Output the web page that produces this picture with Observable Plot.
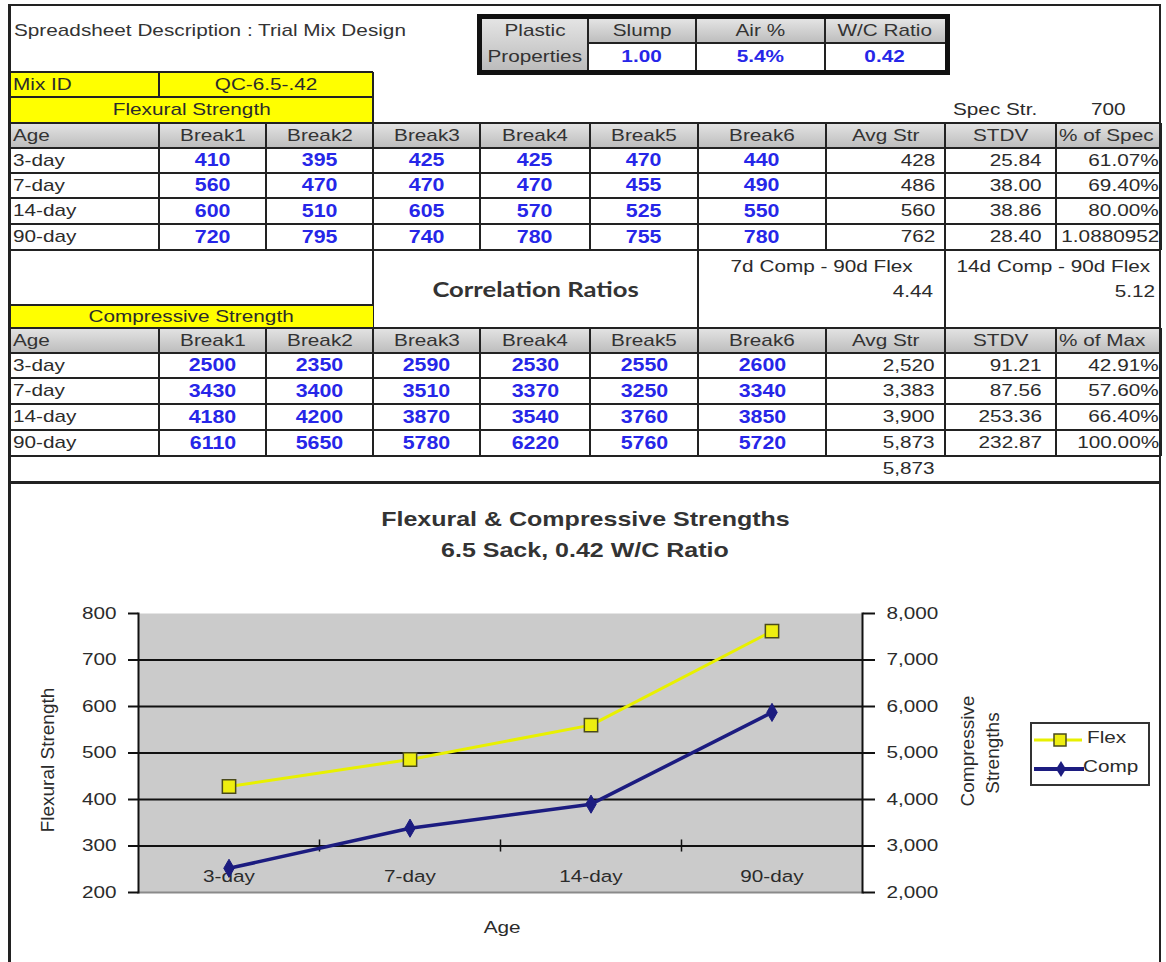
<!DOCTYPE html>
<html><head><meta charset="utf-8">
<script src="https://cdn.jsdelivr.net/npm/d3@7"></script>
<script src="https://cdn.jsdelivr.net/npm/@observablehq/plot@0.6"></script>
<style>
body{margin:0;background:#fff;}
#page{position:relative;width:1166px;height:962px;overflow:hidden;background:#fff;font-family:"Liberation Sans",Arial,sans-serif;color:#2b2b2b;}
.c{position:absolute;white-space:nowrap;box-sizing:border-box;}
.c>span{display:inline-block;}
</style></head><body><div id="page"></div>
<script>
// ---------- data ----------
const ages = ["3-day", "7-day", "14-day", "90-day"];
const breakLabels = ["Break1", "Break2", "Break3", "Break4", "Break5", "Break6"];
const flexBreaks = [
  [410, 395, 425, 425, 470, 440],
  [560, 470, 470, 470, 455, 490],
  [600, 510, 605, 570, 525, 550],
  [720, 795, 740, 780, 755, 780]
];
const flexAvg = [428, 486, 560, 762];
const flexStdv = [25.84, 38.00, 38.86, 28.40];
const flexPctSpec = ["61.07%", "69.40%", "80.00%", "1.0880952"];
const compBreaks = [
  [2500, 2350, 2590, 2530, 2550, 2600],
  [3430, 3400, 3510, 3370, 3250, 3340],
  [4180, 4200, 3870, 3540, 3760, 3850],
  [6110, 5650, 5780, 6220, 5760, 5720]
];
const compAvg = [2520, 3383, 3900, 5873];
const compStdv = [91.21, 87.56, 253.36, 232.87];
const compPctMax = ["42.91%", "57.60%", "66.40%", "100.00%"];
const compMax = 5873;
const plasticLabels = ["Slump", "Air %", "W/C Ratio"];
const plasticValues = ["1.00", "5.4%", "0.42"];
const mixId = "QC-6.5-.42";
const specStr = 700;
const corrLabels = ["7d Comp - 90d Flex", "14d Comp - 90d Flex"];
const corrValues = [4.44, 5.12];
const flexTicks = [200, 300, 400, 500, 600, 700, 800];
const compTicks = [2000, 3000, 4000, 5000, 6000, 7000, 8000];
const axisCross = 300;

// ---------- helpers ----------
const SX = 1.22;
const page = document.getElementById("page");
function box(x0, y0, x1, y1, style) {
  const d = document.createElement("div");
  d.className = "c";
  Object.assign(d.style, {left: x0 + "px", top: y0 + "px", width: (x1 - x0) + "px", height: (y1 - y0) + "px"}, style || {});
  page.appendChild(d);
  return d;
}
function txt(x0, y0, x1, y1, text, o = {}) {
  const {align = "center", size = 17, weight = "normal", color = "#2b2b2b", pad = 4, family} = o;
  const d = box(x0, y0, x1, y1, {textAlign: align, lineHeight: (y1 - y0) + "px", fontSize: size + "px",
    fontWeight: weight, color, padding: `0 ${pad}px`});
  if (family) d.style.fontFamily = family;
  const s = document.createElement("span");
  s.textContent = text;
  s.style.transform = `scaleX(${SX})`;
  s.style.transformOrigin = align === "left" ? "left center" : align === "right" ? "right center" : "center center";
  d.appendChild(s);
  return d;
}
function hl(x0, x1, y, w = 2) { box(x0, y - w / 2, x1, y + w / 2, {background: "#222"}); }
function vl(x, y0, y1, w = 2) { box(x - w / 2, y0, x + w / 2, y1, {background: "#222"}); }

const X = [10, 159, 266, 373, 480, 590, 698, 826, 945, 1056, 1161];
const BLUE = "#2626e8";
const GRAY = "linear-gradient(#e4e4e4,#bcbcbc)";
const YEL = "#ffff00";

// title
txt(10, 18, 470, 44, "Spreadsheet Description : Trial Mix Design", {align: "left", pad: 4, color: "#333"});

// plastic properties box
box(477, 14, 950, 75, {border: "5px solid #111", background: "#fff"});
box(482, 19, 588, 70, {background: GRAY});
txt(482, 19, 588, 43, "Plastic", {color: "#333"});
txt(482, 43, 588, 70, "Properties", {color: "#333"});
const PX = [588, 696, 825, 945];
plasticLabels.forEach((l, i) => {
  box(PX[i], 19, PX[i + 1], 43, {background: GRAY});
  txt(PX[i], 19, PX[i + 1], 43, l, {color: "#333"});
  txt(PX[i], 43, PX[i + 1], 70, plasticValues[i], {color: BLUE, weight: "bold"});
});
PX.slice(0, 3).forEach(x => vl(x, 19, 70, 2));
hl(588, 945, 43, 2);

// Mix ID & Flexural header
box(10, 72, 373, 123, {background: YEL});
txt(10, 72, 159, 97, "Mix ID", {align: "left", pad: 3});
txt(159, 72, 373, 97, mixId);
txt(10, 97, 373, 123, "Flexural Strength");
hl(10, 373, 72); hl(10, 373, 97); vl(159, 72, 97); vl(373, 72, 123);
txt(945, 97, 1056, 123, "Spec Str.", {align: "left", pad: 8});
txt(1056, 97, 1161, 123, String(specStr));

function drawTable(rows, lastLabel, breaks, avg, avgFmt, stdv, pct) {
  const heads = ["Age", ...breakLabels, "Avg Str", "STDV", lastLabel];
  heads.forEach((h, i) => {
    box(X[i], rows[0], X[i + 1], rows[1], {background: GRAY});
    txt(X[i], rows[0], X[i + 1], rows[1], h, {align: (i === 0 || i === 9) ? "left" : "center", pad: 3, color: "#333"});
  });
  ages.forEach((a, r) => {
    const y0 = rows[r + 1], y1 = rows[r + 2];
    txt(X[0], y0, X[1], y1, a, {align: "left", pad: 3});
    breaks[r].forEach((v, j) => txt(X[j + 1], y0, X[j + 2], y1, String(v), {size: 17.5, weight: "bold", color: BLUE}));
    txt(X[7], y0, X[8], y1, avgFmt(avg[r]), {align: "right", pad: 10});
    txt(X[8], y0, X[9], y1, stdv[r].toFixed(2), {align: "right", pad: 14});
    txt(X[9], y0, X[10], y1, pct[r], {align: "right", pad: 2});
  });
  rows.forEach(y => hl(X[0], X[10], y));
  X.slice(1).forEach(x => vl(x, rows[0], rows[rows.length - 1]));
}
drawTable([123, 148, 173, 198, 224, 250], "% of Spec", flexBreaks, flexAvg, d => String(d), flexStdv, flexPctSpec);

// correlation block
txt(373, 250, 698, 328, "Correlation Ratios", {size: 21, weight: "bold", family: "Lato, 'Open Sans', sans-serif", color: "#333"});
txt(698, 254, 945, 279, corrLabels[0]);
txt(698, 279, 945, 304, corrValues[0].toFixed(2), {align: "right", pad: 12});
txt(945, 254, 1161, 279, corrLabels[1]);
txt(945, 279, 1161, 304, corrValues[1].toFixed(2), {align: "right", pad: 6});
vl(373, 250, 328); vl(698, 250, 328); vl(945, 250, 328);
box(10, 305, 373, 328, {background: YEL});
txt(10, 305, 373, 328, "Compressive Strength");
hl(10, 373, 305);

drawTable([328, 353, 378, 404, 430, 456], "% of Max", compBreaks, compAvg, d => d3.format(",")(d), compStdv, compPctMax);
txt(X[7], 456, X[8], 481, d3.format(",")(compMax), {align: "right", pad: 10});
hl(8, 1161, 482, 3);

// page frame
hl(8, 1161, 5, 2);
vl(9, 5, 962, 3);
vl(1160, 5, 962, 2);

// chart titles
txt(10, 504, 1160, 533, "Flexural & Compressive Strengths", {size: 20.5, weight: "bold", color: "#333"});
txt(10, 535, 1160, 564, "6.5 Sack, 0.42 W/C Ratio", {size: 20.5, weight: "bold", color: "#333"});

// ---------- chart ----------
const data = ages.map((a, i) => ({age: a, flex: flexAvg[i], comp: compAvg[i]}));
const W = 1150, H = 372, mL = 128, mR = 298, mT = 23, mB = 70;
const bw = (W - mL - mR) / ages.length;
const FLEX = "#e8f000", COMP = "#1c1c80";
const chart = Plot.plot({
  width: W, height: H, marginLeft: mL, marginRight: mR, marginTop: mT, marginBottom: mB,
  style: {fontFamily: "Liberation Sans, Arial, sans-serif", fontSize: "17px", color: "#2b2b2b", background: "transparent", overflow: "visible"},
  x: {type: "band", domain: ages, padding: 0, label: null, axis: null},
  y: {domain: [200, 800], label: null, axis: null},
  marks: [
    Plot.frame({fill: "#cbcbcb", stroke: null}),
    Plot.frame({anchor: "bottom", stroke: "#8a8a8a", strokeWidth: 2}),
    Plot.ruleY(flexTicks.filter(v => v > 200 && v < 800), {stroke: "#111", strokeWidth: 2}),
    Plot.text(ages, {x: d => d, text: d => d, frameAnchor: "bottom", dy: -11, fontSize: 17, fill: "#2b2b2b"}),
    Plot.ruleX(ages.slice(1), {x: d => d, dx: -bw / 2, y1: axisCross - 13, y2: axisCross + 13, stroke: "#111", strokeWidth: 1.5}),
    Plot.axisY({anchor: "left", ticks: flexTicks, tickSize: 10, tickPadding: 12, strokeWidth: 2, stroke: "#111", label: null, tickFormat: d => String(d), fontSize: 17}),
    Plot.axisY({anchor: "right", ticks: compTicks.map(v => v / 10), tickSize: 12, tickPadding: 12, strokeWidth: 2, stroke: "#111", label: null, tickFormat: d => d3.format(",")(d * 10), fontSize: 17}),
    Plot.frame({anchor: "left", stroke: "#111", strokeWidth: 2}),
    Plot.frame({anchor: "right", stroke: "#111", strokeWidth: 2}),
    Plot.line(data, {x: "age", y: "flex", stroke: FLEX, strokeWidth: 3}),
    Plot.dot(data, {x: "age", y: "flex", symbol: "square", r: 7.5, fill: "#eeee10", stroke: "#4a4a1a", strokeWidth: 1.5}),
    Plot.line(data, {x: "age", y: d => d.comp / 10, stroke: COMP, strokeWidth: 3.5}),
    Plot.dot(data, {x: "age", y: d => d.comp / 10, symbol: "diamond", r: 5.5, fill: COMP, stroke: COMP, strokeWidth: 1})
  ]
});
// widen glyphs horizontally to match the stretched scan (keeps anchors in place)
chart.querySelectorAll("text").forEach(t => {
  const xa = t.getAttribute("x");
  let x = 0;
  if (xa !== null && /^-?[\d.]+$/.test(xa.trim())) { x = +xa; t.removeAttribute("x"); }
  const tr = t.getAttribute("transform") || "";
  t.setAttribute("transform", `${tr} translate(${x},0) scale(${SX},1)`);
});
const holder = box(10, 590, 10 + W, 590 + H, {});
holder.appendChild(chart);

// axis titles
function rot(cx, cy, text, size) {
  const d = document.createElement("div");
  d.className = "c";
  Object.assign(d.style, {left: (cx - 150) + "px", top: (cy - 15) + "px", width: "300px", height: "30px", lineHeight: "30px",
    textAlign: "center", fontSize: size + "px", color: "#2b2b2b", transform: "rotate(-90deg)", transformOrigin: "center center"});
  d.textContent = text;
  page.appendChild(d);
}
rot(48, 760, "Flexural Strength", 19);
rot(968, 751, "Compressive", 19);
rot(993, 753, "Strengths", 19);
txt(400, 915, 604, 941, "Age", {size: 17});

// legend
const lg = box(1030, 722, 1150, 786, {border: "2px solid #333", background: "#fff"});
lg.innerHTML = `<svg width="116" height="60" style="position:absolute;left:0;top:0">
  <line x1="2" x2="50" y1="16" y2="16" stroke="${FLEX}" stroke-width="3"/>
  <rect x="22" y="10" width="12" height="12" fill="#eeee10" stroke="#4a4a1a" stroke-width="1.5"/>
  <line x1="2" x2="52" y1="45" y2="45" stroke="${COMP}" stroke-width="4"/>
  <polygon points="29,37 34,45 29,53 24,45" fill="${COMP}"/>
</svg>`;
txt(1085, 724, 1148, 752, "Flex", {align: "left", pad: 2});
txt(1081, 753, 1148, 781, "Comp", {align: "left", pad: 2});
</script>
</body></html>
